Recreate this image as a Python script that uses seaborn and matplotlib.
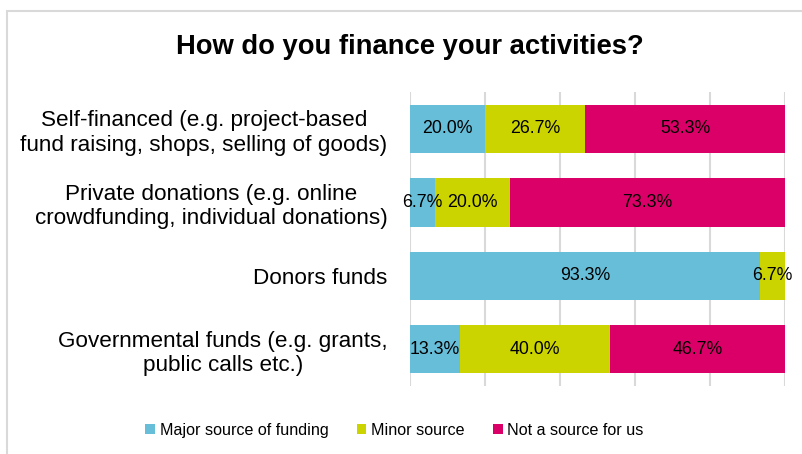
import matplotlib
matplotlib.use("Agg")
import matplotlib.pyplot as plt
from matplotlib.patches import Patch, Rectangle
import numpy as np
import seaborn as sns

# Survey answers, share of respondents (%)
categories = [
    "Self-financed (e.g. project-based\nfund raising, shops, selling of goods)",
    "Private donations (e.g. online\ncrowdfunding, individual donations)",
    "Donors funds",
    "Governmental funds (e.g. grants,\npublic calls etc.)",
]
major_source = [20.0, 6.7, 93.3, 13.3]
minor_source = [26.7, 20.0, 6.7, 40.0]
not_a_source = [53.3, 73.3, 0.0, 46.7]

series_names = ["Major source of funding", "Minor source", "Not a source for us"]
series_colors = ["#67BED9", "#CCD400", "#DB0068"]

sns.set_theme(style="white")
plt.rcParams["font.family"] = ["Liberation Sans", "DejaVu Sans"]

fig = plt.figure(figsize=(8.02, 4.54), dpi=100)
ax = fig.add_axes([0.511, 0.150, 0.468, 0.647])

series = [np.array(major_source), np.array(minor_source), np.array(not_a_source)]
cumulative = np.cumsum(series, axis=0)

# Stacked bars: draw the running totals from the outermost segment inward
for i in reversed(range(3)):
    sns.barplot(x=cumulative[i], y=categories, orient="h", color=series_colors[i],
                width=0.66, linewidth=0, saturation=1, ax=ax, zorder=2)

# Segment value labels, centred in each segment
for i in range(3):
    starts = cumulative[i] - series[i]
    for row, (val, start) in enumerate(zip(series[i], starts)):
        if val > 0:
            ax.text(start + val / 2, row, f"{val:.1f}%", ha="center", va="center",
                    fontsize=12.8, color="#000000", zorder=3)

ax.set_xlim(0, 100)
ax.set_ylim(3.5, -0.5)
ax.set_xticks(np.arange(0, 101, 20))
ax.xaxis.grid(True, color="#D9D9D9", linewidth=1.5, zorder=0)
ax.yaxis.grid(False)
ax.set_xticklabels([])
ax.tick_params(axis="x", length=0)
ax.tick_params(axis="y", length=0, pad=16, labelsize=16.2, labelcolor="#000000")
for lbl in ax.get_yticklabels():
    lbl.set_multialignment("center")
    lbl.set_linespacing(1.2)
ax.set_xlabel("")
ax.set_ylabel("")
for s in ax.spines.values():
    s.set_visible(False)

fig.text(0.511, 0.896, "How do you finance your activities?", ha="center", va="center",
         fontsize=19.7, fontweight="bold", color="#000000")

handles = [Patch(facecolor=c, edgecolor="none") for c in series_colors]
fig.legend(handles, series_names, loc="center", bbox_to_anchor=(0.492, 0.052), ncol=3,
           frameon=False, fontsize=11.6, handlelength=0.6, handleheight=0.6,
           handletextpad=0.3, columnspacing=1.75, labelcolor="#000000")

# Light outer frame of the chart area
fig.patches.append(Rectangle((6.5 / 802, -0.1), 1.2, 1 - 10.5 / 454 + 0.1,
                             transform=fig.transFigure, fill=False,
                             edgecolor="#D9D9D9", linewidth=1.5))

fig.savefig("out.png", dpi=100)
